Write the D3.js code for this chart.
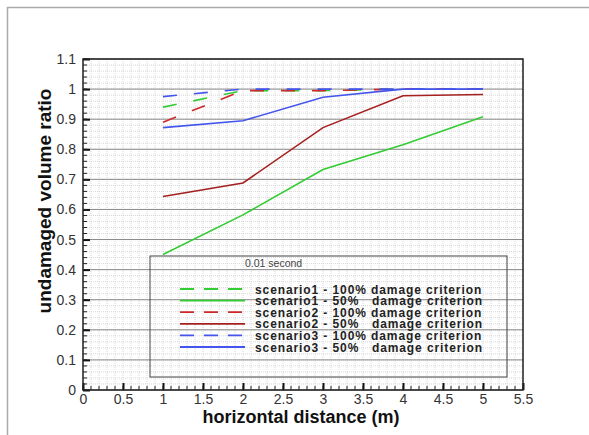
<!DOCTYPE html>
<html>
<head>
<meta charset="utf-8">
<script src="https://cdn.jsdelivr.net/npm/d3@7"></script>
<style>
  body { margin: 0; background: #fff; }
  text { font-family: "Liberation Sans", Arial, sans-serif; }
</style>
</head>
<body>
<div id="chart"></div>
<script>
// data
const distance = [1, 2, 3, 4, 5];
const s1Full = [0.94, 0.995, 0.995, 1.0, 1.0];
const s1Half = [0.45, 0.582, 0.733, 0.815, 0.908];
const s2Full = [0.89, 0.995, 0.995, 1.0, 1.0];
const s2Half = [0.643, 0.688, 0.872, 0.978, 0.982];
const s3Full = [0.975, 1.0, 1.0, 1.0, 1.0];
const s3Half = [0.872, 0.895, 0.973, 1.0, 1.0];
const xTicks = [0, 0.5, 1, 1.5, 2, 2.5, 3, 3.5, 4, 4.5, 5, 5.5];
const yTicks = [0, 0.1, 0.2, 0.3, 0.4, 0.5, 0.6, 0.7, 0.8, 0.9, 1, 1.1];

const series = [
  { name: "scenario1 - 100% damage criterion", values: s1Full, color: "#33cc33", dashed: true },
  { name: "scenario1 - 50%   damage criterion", values: s1Half, color: "#33cc33", dashed: false },
  { name: "scenario2 - 100% damage criterion", values: s2Full, color: "#cc2a2a", dashed: true },
  { name: "scenario2 - 50%   damage criterion", values: s2Half, color: "#a52020", dashed: false },
  { name: "scenario3 - 100% damage criterion", values: s3Full, color: "#4455ee", dashed: true },
  { name: "scenario3 - 50%   damage criterion", values: s3Half, color: "#4455ee", dashed: false }
];

const W = 589, H = 435;
const margin = { top: 59, right: 66, bottom: 45, left: 83 };
const width = W - margin.left - margin.right;
const height = H - margin.top - margin.bottom;

const root = d3.select("#chart").append("svg")
  .attr("width", W)
  .attr("height", H);

// outer frame
root.append("path")
  .attr("d", `M7.5,${H} V7.5 H${W}`)
  .attr("fill", "none")
  .attr("stroke", "#aaa")
  .attr("stroke-width", 1.5);

const svg = root.append("g")
  .attr("transform", `translate(${margin.left},${margin.top})`);

const x = d3.scaleLinear().domain([0, 5.5]).range([0, width]);
const y = d3.scaleLinear().domain([0, 1.1]).range([height, 0]);

// minor grid
const xMinor = d3.range(0, 5.5001, 0.1);
const yMinor = d3.range(0, 1.1001, 0.02);
svg.append("g").selectAll("line")
  .data(xMinor)
  .enter().append("line")
  .attr("x1", d => x(d)).attr("x2", d => x(d))
  .attr("y1", 0).attr("y2", height)
  .attr("stroke", "#d6d6d6")
  .attr("stroke-dasharray", "1,1");
svg.append("g").selectAll("line")
  .data(yMinor)
  .enter().append("line")
  .attr("x1", 0).attr("x2", width)
  .attr("y1", d => y(d)).attr("y2", d => y(d))
  .attr("stroke", "#d6d6d6")
  .attr("stroke-dasharray", "1,1");

// major horizontal grid
svg.append("g").selectAll("line")
  .data(yTicks)
  .enter().append("line")
  .attr("x1", 0).attr("x2", width)
  .attr("y1", d => y(d)).attr("y2", d => y(d))
  .attr("stroke", "#8a8a8a")
  .attr("stroke-width", 1);

// axes with inward ticks
const xAxis = svg.append("g")
  .attr("transform", `translate(0,${height})`)
  .call(d3.axisBottom(x).tickValues(xTicks).tickSize(-7).tickPadding(4).tickFormat(d3.format("")));
const yAxis = svg.append("g")
  .call(d3.axisLeft(y).tickValues(yTicks).tickSize(-7).tickPadding(7).tickFormat(d3.format("")));
[xAxis, yAxis].forEach(a => {
  a.select(".domain").remove();
  a.selectAll("line").attr("stroke", "#111").attr("stroke-width", 2);
  a.selectAll("text").attr("fill", "#333").style("font-size", "14px");
});

// minor ticks
svg.append("g").selectAll("line")
  .data(xMinor)
  .enter().append("line")
  .attr("x1", d => x(d)).attr("x2", d => x(d))
  .attr("y1", height).attr("y2", height - 4)
  .attr("stroke", "#222");
svg.append("g").selectAll("line")
  .data(yMinor)
  .enter().append("line")
  .attr("x1", 0).attr("x2", 4)
  .attr("y1", d => y(d)).attr("y2", d => y(d))
  .attr("stroke", "#222");

// plot frame
svg.append("rect")
  .attr("width", width).attr("height", height)
  .attr("fill", "none")
  .attr("stroke", "#222")
  .attr("stroke-width", 1.5);

// lines
const line = d3.line()
  .x((d, i) => x(distance[i]))
  .y(d => y(d));

svg.append("g").selectAll("path")
  .data(series)
  .enter().append("path")
  .attr("d", d => line(d.values))
  .attr("fill", "none")
  .attr("stroke", d => d.color)
  .attr("stroke-width", 1.6)
  .attr("stroke-dasharray", d => d.dashed ? "14,17" : null);

// legend
const lx = 150 - margin.left, ly = 256 - margin.top;
const legend = svg.append("g").attr("transform", `translate(${lx},${ly})`);
legend.append("rect")
  .attr("width", 357).attr("height", 121)
  .attr("fill", "none")
  .attr("stroke", "#444")
  .attr("stroke-width", 1);
legend.append("text")
  .attr("x", 95).attr("y", 11)
  .attr("fill", "#444")
  .style("font-size", "10.5px")
  .text("0.01 second");

const rows = legend.selectAll(".row")
  .data(series)
  .enter().append("g")
  .attr("transform", (d, i) => `translate(0,${33 + i * 11.6})`);
rows.append("line")
  .attr("x1", 30).attr("x2", 95)
  .attr("stroke", d => d.color)
  .attr("stroke-width", 1.8)
  .attr("stroke-dasharray", d => d.dashed ? "14,10" : null);
rows.append("text")
  .attr("x", 105).attr("y", 4.5)
  .attr("fill", "#222")
  .style("font-size", "12px")
  .style("font-weight", "bold")
  .style("letter-spacing", "0.9px")
  .attr("xml:space", "preserve")
  .text(d => d.name);

// axis titles
svg.append("text")
  .attr("x", 301 - margin.left).attr("y", height + 33)
  .attr("text-anchor", "middle")
  .attr("fill", "#111")
  .style("font-size", "18px")
  .style("font-weight", "bold")
  .text("horizontal distance (m)");
svg.append("text")
  .attr("transform", `translate(${51 - margin.left},${201 - margin.top}) rotate(-90)`)
  .attr("text-anchor", "middle")
  .attr("fill", "#111")
  .style("font-size", "19px")
  .style("font-weight", "bold")
  .text("undamaged volume ratio");
</script>
</body>
</html>
